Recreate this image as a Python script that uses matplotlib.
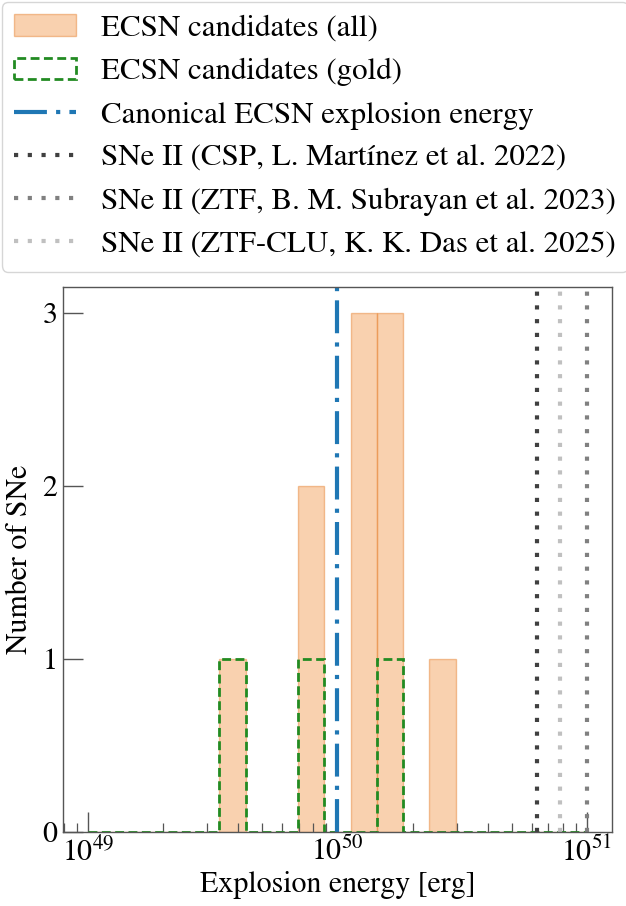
import numpy as np
import matplotlib
matplotlib.use("Agg")
import matplotlib.pyplot as plt

plt.rcParams['font.family'] = ['STIXGeneral', 'DejaVu Serif']
plt.rcParams['mathtext.fontset'] = 'stix'

# ---- data ----
bin_edges_log = (49.0, 51.0, 20)            # log10 edges: logspace(49, 51, 20)
counts_all = [0, 0, 0, 0, 0, 1, 0, 0, 2, 0, 3, 3, 0, 1, 0, 0, 0, 0, 0]
counts_gold = [0, 0, 0, 0, 0, 1, 0, 0, 1, 0, 0, 1, 0, 0, 0, 0, 0, 0, 0]
canonical_energy = 1e50
ref_energies = [6.3e50, 1.0e51, 7.8e50]
ref_labels = ["SNe II (CSP, L. Martínez et al. 2022)",
              "SNe II (ZTF, B. M. Subrayan et al. 2023)",
              "SNe II (ZTF-CLU, K. K. Das et al. 2025)"]
ref_colors = ["#404040", "#808080", "#c0c0c0"]

edges = np.logspace(*bin_edges_log)
centers = np.sqrt(edges[:-1] * edges[1:])

fig = plt.figure(figsize=(6.26, 9.06), dpi=100)
ax = fig.add_axes([0.1006, 0.0817, 0.877, 0.6015])

ax.hist(centers, bins=edges, weights=counts_all, color='#f4a460', alpha=0.5,
        edgecolor='#e8883a', linewidth=1.0, label="ECSN candidates (all)")
ax.hist(centers, bins=edges, weights=counts_gold, histtype='step',
        color='forestgreen', linestyle=(0, (3.2, 1.6)), linewidth=2.0,
        label="ECSN candidates (gold)")
ax.axvline(canonical_energy, color='C0', linewidth=3,
           linestyle=(0, (7.9, 2.2, 1.0, 2.2)),
           label="Canonical ECSN explosion energy")
for e, lab, c in zip(ref_energies, ref_labels, ref_colors):
    ax.axvline(e, color=c, linewidth=3, linestyle=(0, (1, 2.3)), label=lab)

ax.set_xscale('log')
ax.set_xlim(10**48.9, 10**51.1)
ax.set_ylim(0, 3.15)
ax.set_yticks([0, 1, 2, 3])
ax.yaxis.set_minor_locator(matplotlib.ticker.NullLocator())

fs = 21.5
ax.tick_params(axis='both', which='major', direction='in', length=14.4,
               width=1.0, color='#555555', labelsize=fs, pad=4)
ax.tick_params(axis='x', which='minor', direction='in', length=6.5,
               width=0.9, color='#555555')
for s in ax.spines.values():
    s.set_color('#555555')
    s.set_linewidth(1.0)

ax.set_xlabel("Explosion energy [erg]", fontsize=fs, labelpad=2)
ax.set_ylabel("Number of SNe", fontsize=fs, labelpad=6)

handles, labels = ax.get_legend_handles_labels()
fig.legend(handles, labels, loc='upper left',
           bbox_to_anchor=(2 / 626, 1 - 2 / 906), borderaxespad=0,
           fontsize=22.3, handlelength=2.0, handletextpad=0.8,
           labelspacing=0.47, borderpad=0.4)

fig.savefig("out.png", dpi=100)
